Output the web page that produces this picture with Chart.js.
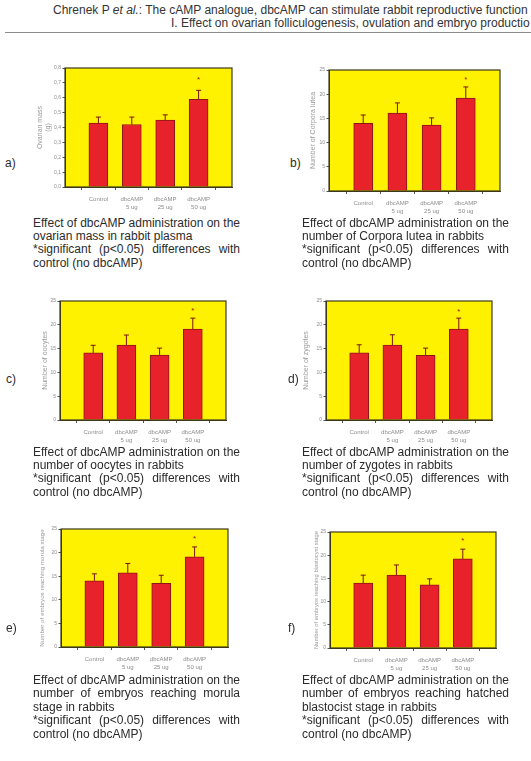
<!DOCTYPE html>
<html>
<head>
<meta charset="utf-8">
<script src="https://cdn.jsdelivr.net/npm/chart.js@4.4.0/dist/chart.umd.min.js"></script>
<style>
  html, body { margin: 0; padding: 0; background: #fff; }
  body { width: 531px; height: 761px; position: relative; overflow: hidden;
         font-family: "Liberation Sans", Arial, Helvetica, sans-serif; color: #2b2b2b; }
  canvas { position: absolute; }
  .hdr { position: absolute; white-space: nowrap; font-size: 12px; line-height: 13px; color: #333; }
  .rule { position: absolute; left: 5px; right: 0; top: 32px; height: 0; border-top: 1.5px solid #8a8a8a; }
  .cap { position: absolute; font-size: 12px; line-height: 13.4px; }
  .cap div { white-space: nowrap; }
  .cap div.j { text-align: justify; text-align-last: justify; white-space: normal; }
  .tag { position: absolute; font-size: 12px; line-height: 14px; }
</style>
</head>
<body>
<div class="hdr" style="left:53px; top:4px;">Chrenek P <i>et al.</i>: The cAMP analogue, dbcAMP can stimulate rabbit reproductive function</div>
<div class="hdr" style="left:171px; top:17px;">I. Effect on ovarian folliculogenesis, ovulation and embryo productio</div>
<div class="rule"></div>
<div id="page"></div>
<script>
// values (mean, upper error bar, position of the * mark)
const categories = ['Control', ['dbcAMP', '5 ug'], ['dbcAMP', '25 ug'], ['dbcAMP', '50 ug']];

const ovarianMass = [0.43, 0.42, 0.45, 0.59];
const ovarianMassErr = [0.04, 0.05, 0.035, 0.06];
const corporaLutea = [14.0, 16.1, 13.6, 19.2];
const corporaLuteaErr = [1.7, 2.1, 1.5, 2.3];
const oocytes = [14.1, 15.75, 13.65, 19.1];
const oocytesErr = [1.6, 2.1, 1.45, 2.3];
const zygotes = [14.1, 15.75, 13.6, 19.1];
const zygotesErr = [1.7, 2.15, 1.5, 2.3];
const morula = [14.0, 15.7, 13.5, 19.1];
const morulaErr = [1.5, 2.0, 1.7, 2.1];
const blastocyst = [14.0, 15.7, 13.6, 19.2];
const blastocystErr = [1.7, 2.2, 1.3, 2.1];
const starLevels = [0.73, 23.3, 23.3, 23.1, 23.3, 23.5];

const massTicks = ['0,0', '0,1', '0,2', '0,3', '0,4', '0,5', '0,6', '0,7', '0,8'];
const countTicks = ['0', '5', '10', '15', '20', '25'];

const sigText = '*significant (p<0.05) differences with';
const panels = [
    { tag: 'a)', tagPos: [5, 156], L: 65, T: 68, R: 234, B: 187, axisW: 29, titleSize: 7,
      title: ['Ovarian mass', '(g)'], values: ovarianMass, errs: ovarianMassErr, ticks: massTicks, max: 0.8, step: 0.1,
      capPos: [33, 216.5], caption: [['Effect of dbcAMP administration on the', 1], ['ovarian mass in rabbit plasma', 0], [sigText, 1], ['control (no dbcAMP)', 0]] },
    { tag: 'b)', tagPos: [290, 156], L: 329, T: 70, R: 502, B: 191, axisW: 20, titleSize: 7,
      title: 'Number of Corpora lutea', values: corporaLutea, errs: corporaLuteaErr, ticks: countTicks, max: 25, step: 5,
      capPos: [302, 216.5], caption: [['Effect of dbcAMP administration on the', 1], ['number of Corpora lutea in rabbits', 0], [sigText, 1], ['control (no dbcAMP)', 0]] },
    { tag: 'c)', tagPos: [6, 372], L: 60, T: 301, R: 228, B: 420, axisW: 19, titleSize: 7,
      title: 'Number of oocytes', values: oocytes, errs: oocytesErr, ticks: countTicks, max: 25, step: 5,
      capPos: [33, 445.5], caption: [['Effect of dbcAMP administration on the', 1], ['number of oocytes in rabbits', 0], [sigText, 1], ['control (no dbcAMP)', 0]] },
    { tag: 'd)', tagPos: [288, 372], L: 326, T: 301, R: 494, B: 420, axisW: 24, titleSize: 7,
      title: 'Number of zygotes', values: zygotes, errs: zygotesErr, ticks: countTicks, max: 25, step: 5,
      capPos: [302, 445.5], caption: [['Effect of dbcAMP administration on the', 1], ['number of zygotes in rabbits', 0], [sigText, 1], ['control (no dbcAMP)', 0]] },
    { tag: 'e)', tagPos: [6, 621], L: 61, T: 529, R: 230, B: 647, axisW: 22, titleSize: 6.2,
      title: 'Number of embryos reaching morula stage', values: morula, errs: morulaErr, ticks: countTicks, max: 25, step: 5,
      capPos: [33, 674], caption: [['Effect of dbcAMP administration on the', 1], ['number of embryos reaching morula', 1], ['stage in rabbits', 0], [sigText, 1], ['control (no dbcAMP)', 0]] },
    { tag: 'f)', tagPos: [288, 621], L: 330, T: 532, R: 498, B: 648, axisW: 17, titleSize: 5.8,
      title: 'Number of embryos reaching blastocyst stage', values: blastocyst, errs: blastocystErr, ticks: countTicks, max: 25, step: 5,
      capPos: [302, 674], caption: [['Effect of dbcAMP administration on the', 1], ['number of embryos reaching hatched', 1], ['blastocist stage in rabbits', 0], [sigText, 1], ['control (no dbcAMP)', 0]] }
];

const PAD_TOP = 6, PAD_RIGHT = 4, X_AXIS_H = 26;

function panelPlugin(p, star) {
    return {
        id: 'panel',
        beforeDraw(chart) {
            const a = chart.chartArea, ctx = chart.ctx;
            ctx.save();
            ctx.fillStyle = '#fff200';
            ctx.fillRect(a.left, a.top, a.right - a.left, a.bottom - a.top);
            ctx.restore();
        },
        afterDatasetsDraw(chart) {
            const ctx = chart.ctx, y = chart.scales.y;
            const bars = chart.getDatasetMeta(0).data;
            ctx.save();
            ctx.strokeStyle = '#7a1414';
            ctx.lineWidth = 1;
            p.values.forEach((v, i) => {
                const bar = bars[i + 1];
                const top = y.getPixelForValue(v + p.errs[i]);
                ctx.beginPath();
                ctx.moveTo(bar.x, bar.y);
                ctx.lineTo(bar.x, top);
                ctx.moveTo(bar.x - 2.5, top);
                ctx.lineTo(bar.x + 2.5, top);
                ctx.stroke();
            });
            // significance mark over the 50 ug bar
            const last = bars[p.values.length];
            ctx.fillStyle = '#a01818';
            ctx.font = '8px "Liberation Sans", Arial';
            ctx.textAlign = 'center';
            ctx.textBaseline = 'middle';
            ctx.fillText('*', last.x, y.getPixelForValue(star) + 1.5);
            ctx.restore();
        },
        afterDraw(chart) {
            const a = chart.chartArea, ctx = chart.ctx;
            ctx.save();
            ctx.strokeStyle = '#3d3a1c';
            ctx.lineWidth = 1.2;
            ctx.strokeRect(a.left, a.top, a.right - a.left, a.bottom - a.top);
            ctx.restore();
        }
    };
}

document.addEventListener('DOMContentLoaded', function () {
    const page = document.getElementById('page');

    panels.forEach((p, k) => {
        const canvas = document.createElement('canvas');
        const w = p.R - p.L + p.axisW + PAD_RIGHT;
        const h = p.B - p.T + PAD_TOP + X_AXIS_H;
        canvas.width = w;
        canvas.height = h;
        canvas.style.left = (p.L - p.axisW) + 'px';
        canvas.style.top = (p.T - PAD_TOP) + 'px';
        canvas.style.width = w + 'px';
        canvas.style.height = h + 'px';
        page.appendChild(canvas);

        new Chart(canvas.getContext('2d'), {
            type: 'bar',
            data: {
                // blank slots at both ends so the four bars sit at 1..4 of 0..5
                labels: ['', ...categories, ''],
                datasets: [{
                    data: [null, ...p.values, null],
                    backgroundColor: '#e8222a',
                    borderColor: '#8e1616',
                    borderWidth: 1,
                    barThickness: 19
                }]
            },
            options: {
                responsive: false,
                animation: false,
                devicePixelRatio: 1,
                layout: { padding: { top: PAD_TOP, right: PAD_RIGHT, left: 0, bottom: 0 } },
                plugins: { legend: { display: false }, tooltip: { enabled: false } },
                scales: {
                    x: {
                        type: 'category',
                        offset: false,
                        afterFit: (scale) => { scale.height = X_AXIS_H; },
                        grid: { drawOnChartArea: false, tickLength: 3, color: '#555' },
                        border: { display: true, color: '#3d3a1c' },
                        ticks: {
                            autoSkip: false, maxRotation: 0, padding: 6, color: '#8c8c8c',
                            font: { size: 6, family: '"Liberation Sans", Arial', lineHeight: 1.25 }
                        }
                    },
                    y: {
                        min: 0,
                        max: p.max,
                        afterFit: (scale) => { scale.width = p.axisW; },
                        grid: { drawOnChartArea: false, tickLength: 2.5, color: '#555' },
                        border: { display: true, color: '#3d3a1c' },
                        ticks: {
                            stepSize: p.step, padding: 1.5, color: '#8c8c8c',
                            font: { size: 5, family: '"Liberation Sans", Arial' },
                            callback: (value, index) => p.ticks[index]
                        },
                        title: {
                            display: true, text: p.title, color: '#9a9a9a', padding: 0,
                            font: { size: p.titleSize, family: '"Liberation Sans", Arial', lineHeight: 1.15 }
                        }
                    }
                }
            },
            plugins: [panelPlugin(p, starLevels[k])]
        });

        const tag = document.createElement('div');
        tag.className = 'tag';
        tag.style.left = p.tagPos[0] + 'px';
        tag.style.top = p.tagPos[1] + 'px';
        tag.textContent = p.tag;
        page.appendChild(tag);

        const cap = document.createElement('div');
        cap.className = 'cap';
        cap.style.left = p.capPos[0] + 'px';
        cap.style.top = p.capPos[1] + 'px';
        cap.style.width = '207px';
        p.caption.forEach(([text, just]) => {
            const line = document.createElement('div');
            if (just) line.className = 'j';
            line.textContent = text;
            cap.appendChild(line);
        });
        page.appendChild(cap);
    });
});
</script>
</body>
</html>
